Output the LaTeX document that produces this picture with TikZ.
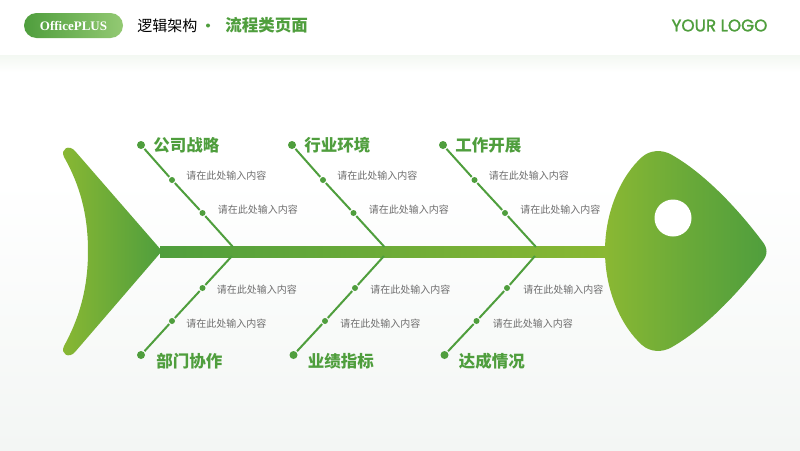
\documentclass[tikz,border=0pt]{standalone}
\usepackage{fontspec}
\setmainfont{Liberation Serif}
\newfontfamily\cjk{Noto Sans CJK SC}
\newfontfamily\logofont[FakeBold=1.5]{Poppins}
\usepackage{tikz}
\usetikzlibrary{positioning}
\definecolor{leafdark}{HTML}{4F9E3D}
\definecolor{leaflight}{HTML}{8AB833}
\definecolor{pilllight}{HTML}{93C973}
\definecolor{notegray}{HTML}{6E6E6E}
\definecolor{mist}{HTML}{F3F6F4}
\definecolor{bandtint}{HTML}{F3F8F2}

\begin{document}
\begin{tikzpicture}[
			x=1pt, y=-1pt,
			bonedot/.style={circle, fill=leafdark, inner sep=0pt, outer sep=1.2pt},
			enddot/.style={bonedot, minimum size=8pt},
			middot/.style={bonedot, minimum size=6pt},
			titletext/.style={font=\cjk\bfseries\fontsize{16.5}{18}\selectfont, text=leafdark, inner sep=0pt},
			notetext/.style={font=\cjk\fontsize{10}{12}\selectfont, text=notegray, inner sep=0pt},
			bone/.style={draw=leafdark, line width=2pt},
			]
			\useasboundingbox (0,0) rectangle (800,450);
			%Background
			\fill[white] (0,0) rectangle (800,450);
			\shade[top color=white, bottom color=mist] (0,180) rectangle (800,450);
			\shade[top color=bandtint, bottom color=white] (0,55) rectangle (800,72);

			%Header
			\node[rounded corners=12.5pt, minimum width=99pt, minimum height=25pt, inner sep=0pt, left color=leafdark, right color=pilllight,
				text=white, font=\bfseries\fontsize{13}{15}\selectfont] (pill) at (73.5,25.5) {OfficePLUS};
			\node[font=\cjk\fontsize{15}{17}\selectfont, inner sep=0pt] (section) [right=14pt of pill] {逻辑架构};
			\node[circle, fill=leafdark, minimum size=4pt, inner sep=0pt] (sep) at (208,25.5) {};
			\node[titletext] (page) [right=15pt of sep] {流程类页面};
			\node[font=\logofont\fontsize{16.8}{18}\selectfont, text=leafdark, inner sep=0pt] (logo) at (719.5,25.5) {YOUR LOGO};

			%Tail
			\shade[left color=leaflight, right color=leafdark]
				(162,251) -- (75,151) .. controls (69,144) and (60,149) .. (64,157)
				.. controls (80,185) and (88,215) .. (88,251)
				.. controls (88,287) and (80,317) .. (64,346)
				.. controls (60,354) and (69,359) .. (75,352) -- cycle;
			\coordinate (tailtip) at (160,246);

			%Head
			\shade[left color=leaflight, right color=leafdark, middle color=leaflight!45!leafdark]
				(605,251) .. controls (605,210) and (622,175) .. (642,157)
				.. controls (650,150) and (662,149) .. (672,155)
				.. controls (702,172) and (735,205) .. (762,241)
				.. controls (768,248) and (768,255) .. (762,262)
				.. controls (735,297) and (702,330) .. (672,347)
				.. controls (662,353) and (650,352) .. (642,345)
				.. controls (622,327) and (605,292) .. (605,251) -- cycle;
			\node[circle, fill=white, minimum size=37pt, inner sep=0pt] (eye) at (673,218) {};
			\coordinate (headleft) at (606,257);

			%Spine
			\shade[left color=leafdark, right color=leaflight] (tailtip) rectangle (headleft);

			%Nodes
			\coordinate (joint1) at (233,247);
			\coordinate (joint2) at (384.5,247);
			\coordinate (joint3) at (536,247);
			\coordinate (joint4) at (232,256);
			\coordinate (joint5) at (384,256);
			\coordinate (joint6) at (535,256);

			\node[enddot] (strategy) at (141,145) {};
			\node[middot] (strategy1) at (172,180) {};
			\node[middot] (strategy2) at (202.5,213) {};
			\node[titletext] (strategytext) [right=7pt of strategy] {公司战略};
			\node[notetext] (strategynote1) [right=10pt of strategy1, yshift=4.5pt] {请在此处输入内容};
			\node[notetext] (strategynote2) [right=11pt of strategy2, yshift=3.5pt] {请在此处输入内容};

			\node[enddot] (market) at (292,145) {};
			\node[middot] (market1) at (323,180) {};
			\node[middot] (market2) at (353.5,213) {};
			\node[titletext] (markettext) [right=7pt of market] {行业环境};
			\node[notetext] (marketnote1) [right=10pt of market1, yshift=4.5pt] {请在此处输入内容};
			\node[notetext] (marketnote2) [right=11pt of market2, yshift=3.5pt] {请在此处输入内容};

			\node[enddot] (work) at (443,145) {};
			\node[middot] (work1) at (474.5,180) {};
			\node[middot] (work2) at (505,213) {};
			\node[titletext] (worktext) [right=7pt of work] {工作开展};
			\node[notetext] (worknote1) [right=10pt of work1, yshift=4.5pt] {请在此处输入内容};
			\node[notetext] (worknote2) [right=11pt of work2, yshift=3.5pt] {请在此处输入内容};

			\node[enddot] (dept) at (141,355) {};
			\node[middot] (dept1) at (172,321) {};
			\node[middot] (dept2) at (202.5,288) {};
			\node[titletext] (depttext) [right=10pt of dept, yshift=-6pt] {部门协作};
			\node[notetext] (deptnote1) [right=10pt of dept1, yshift=-2.5pt] {请在此处输入内容};
			\node[notetext] (deptnote2) [right=10pt of dept2, yshift=-1.5pt] {请在此处输入内容};

			\node[enddot] (kpi) at (293.5,355) {};
			\node[middot] (kpi1) at (325,321) {};
			\node[middot] (kpi2) at (355,288) {};
			\node[titletext] (kpitext) [right=9pt of kpi, yshift=-6pt] {业绩指标};
			\node[notetext] (kpinote1) [right=11pt of kpi1, yshift=-2.5pt] {请在此处输入内容};
			\node[notetext] (kpinote2) [right=11pt of kpi2, yshift=-1.5pt] {请在此处输入内容};

			\node[enddot] (result) at (444.5,355) {};
			\node[middot] (result1) at (476.5,321) {};
			\node[middot] (result2) at (507,288) {};
			\node[titletext] (resulttext) [right=9pt of result, yshift=-6pt] {达成情况};
			\node[notetext] (resultnote1) [right=12pt of result1, yshift=-2.5pt] {请在此处输入内容};
			\node[notetext] (resultnote2) [right=12pt of result2, yshift=-1.5pt] {请在此处输入内容};

			%Bones
			\draw[bone] (strategy) -- (strategy1);
			\draw[bone] (strategy1) -- (strategy2);
			\draw[bone] (strategy2) -- (joint1);
			\draw[bone] (market) -- (market1);
			\draw[bone] (market1) -- (market2);
			\draw[bone] (market2) -- (joint2);
			\draw[bone] (work) -- (work1);
			\draw[bone] (work1) -- (work2);
			\draw[bone] (work2) -- (joint3);
			\draw[bone] (dept) -- (dept1);
			\draw[bone] (dept1) -- (dept2);
			\draw[bone] (dept2) -- (joint4);
			\draw[bone] (kpi) -- (kpi1);
			\draw[bone] (kpi1) -- (kpi2);
			\draw[bone] (kpi2) -- (joint5);
			\draw[bone] (result) -- (result1);
			\draw[bone] (result1) -- (result2);
			\draw[bone] (result2) -- (joint6);
		\end{tikzpicture}
\end{document}
